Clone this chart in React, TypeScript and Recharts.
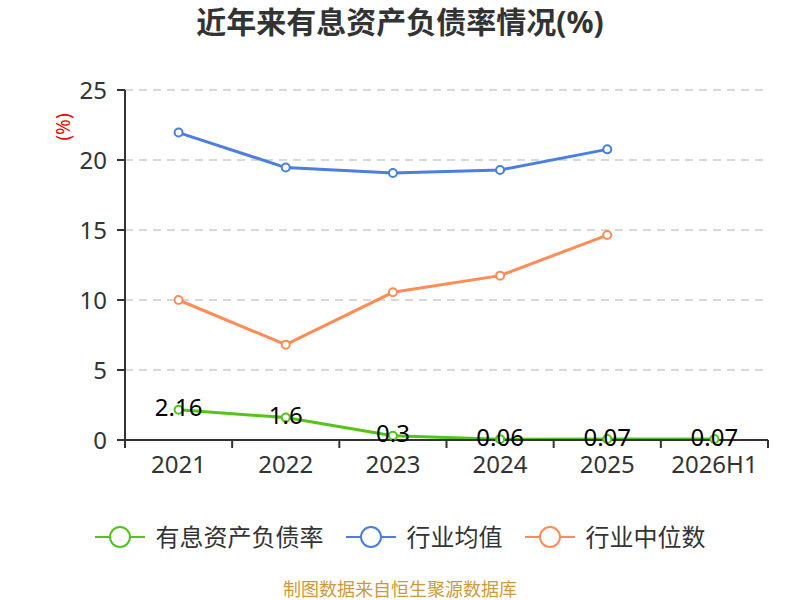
import React from 'react';
import { LineChart, Line, XAxis, YAxis, CartesianGrid, Legend, LabelList } from 'recharts';

const years = ['2021', '2022', '2023', '2024', '2025', '2026H1'];
const debtRatio = [2.16, 1.6, 0.3, 0.06, 0.07, 0.07];
const industryAvg: (number | null)[] = [21.96, 19.46, 19.07, 19.29, 20.76, null];
const industryMedian: (number | null)[] = [10.0, 6.81, 10.55, 11.74, 14.64, null];
const yTicks = [0, 5, 10, 15, 20, 25];

const seriesNames = ['有息资产负债率', '行业均值', '行业中位数'];
const colors = ['#52c41a', '#4a7fe0', '#ff8c55'];

const data = years.map((y, i) => ({
  year: y,
  debt: debtRatio[i],
  avg: industryAvg[i],
  median: industryMedian[i],
}));

const FONT = "'Noto Sans', 'Noto Sans CJK SC', sans-serif";

const XTick = (props: any) => {
  const { x, y, payload, index, visibleTicksCount } = props;
  const half = payload && typeof payload.offset === 'number' ? payload.offset : 0;
  const axisY = y - 16;
  const isLast = index === (visibleTicksCount ?? years.length) - 1;
  return (
    <g>
      <line x1={x - half} x2={x - half} y1={axisY} y2={axisY + 8} stroke="#333" strokeWidth={2} />
      {isLast && (
        <line x1={x + half} x2={x + half} y1={axisY} y2={axisY + 8} stroke="#333" strokeWidth={2} />
      )}
      <text x={x} y={y} dy="0.71em" textAnchor="middle" fill="#333" fontSize={24} fontFamily={FONT}>
        {payload.value}
      </text>
    </g>
  );
};

const YLabel = (props: any) => {
  const vb = props.viewBox || { x: 0, y: 90, width: 125, height: 350 };
  const cx = vb.x + 63;
  const cy = vb.y + 37;
  return (
    <text
      x={cx}
      y={cy}
      transform={`rotate(-90, ${cx}, ${cy})`}
      textAnchor="middle"
      dominantBaseline="central"
      fill="#ff0000"
      fontSize={19}
      fontFamily={FONT}
    >
      (%)
    </text>
  );
};

const renderDataLabel = (props: any) => {
  const { x, y, value } = props;
  return (
    <text
      x={x}
      y={y - 3}
      textAnchor="middle"
      dominantBaseline="central"
      fill="#000"
      fontSize={24}
      fontFamily={FONT}
    >
      {value}
    </text>
  );
};

const renderLegend = (props: any) => {
  const payload = [...(props.payload || [])].sort(
    (a: any, b: any) => seriesNames.indexOf(a.value) - seriesNames.indexOf(b.value)
  );
  return (
    <div
      style={{
        display: 'flex',
        justifyContent: 'center',
        alignItems: 'center',
        height: 30,
        fontFamily: FONT,
      }}
    >
      {payload.map((entry: any, i: number) => (
        <div
          key={i}
          style={{ display: 'flex', alignItems: 'center', marginLeft: i === 0 ? 0 : 22 }}
        >
          <svg width={50} height={26} style={{ display: 'block' }}>
            <line x1={0} x2={15} y1={13} y2={13} stroke={entry.color} strokeWidth={2} />
            <circle cx={25} cy={13} r={10} fill="#fff" stroke={entry.color} strokeWidth={2} />
            <line x1={35} x2={50} y1={13} y2={13} stroke={entry.color} strokeWidth={2} />
          </svg>
          <span style={{ marginLeft: 11, fontSize: 24, color: '#333', lineHeight: '30px' }}>
            {entry.value}
          </span>
        </div>
      ))}
    </div>
  );
};

export default function App() {
  return (
    <div style={{ position: 'absolute', left: 0, top: 0, width: 800, height: 600, background: '#fff' }}>
      <div
        style={{
          position: 'absolute',
          left: 0,
          top: 0,
          width: 800,
          height: 44,
          lineHeight: '44px',
          textAlign: 'center',
          fontSize: 30,
          fontWeight: 'bold',
          color: '#333',
          fontFamily: FONT,
        }}
      >
        近年来有息资产负债率情况(%)
      </div>
      <LineChart width={800} height={600} data={data} margin={{ top: 90, right: 32, bottom: 48, left: 0 }}>
        <CartesianGrid vertical={false} stroke="#ccc" strokeDasharray="8 6" strokeWidth={1.5} />
        <XAxis
          dataKey="year"
          scale="band"
          height={82}
          axisLine={{ stroke: '#333', strokeWidth: 2 }}
          tickLine={false}
          tickSize={8}
          tickMargin={8}
          tick={<XTick />}
          interval={0}
        />
        <YAxis
          width={125}
          domain={[0, 25]}
          ticks={yTicks}
          axisLine={{ stroke: '#333', strokeWidth: 2 }}
          tickLine={{ stroke: '#333', strokeWidth: 2 }}
          tickSize={8}
          tickMargin={10}
          tick={{ fill: '#333', fontSize: 24, fontFamily: FONT }}
          label={<YLabel />}
        />
        <Legend verticalAlign="bottom" content={renderLegend} wrapperStyle={{ left: 0, width: 800 }} />
        <Line
          name={seriesNames[0]}
          dataKey="debt"
          type="linear"
          stroke={colors[0]}
          strokeWidth={3}
          dot={{ r: 4, fill: '#fff', stroke: colors[0], strokeWidth: 2 }}
          activeDot={false}
          isAnimationActive={false}
        >
          <LabelList dataKey="debt" content={renderDataLabel} />
        </Line>
        <Line
          name={seriesNames[1]}
          dataKey="avg"
          type="linear"
          stroke={colors[1]}
          strokeWidth={3}
          dot={{ r: 4, fill: '#fff', stroke: colors[1], strokeWidth: 2 }}
          activeDot={false}
          isAnimationActive={false}
        />
        <Line
          name={seriesNames[2]}
          dataKey="median"
          type="linear"
          stroke={colors[2]}
          strokeWidth={3}
          dot={{ r: 4, fill: '#fff', stroke: colors[2], strokeWidth: 2 }}
          activeDot={false}
          isAnimationActive={false}
        />
      </LineChart>
      <div
        style={{
          position: 'absolute',
          left: 0,
          top: 577,
          width: 800,
          height: 24,
          lineHeight: '24px',
          textAlign: 'center',
          fontSize: 18,
          color: '#cc9a3a',
          fontFamily: FONT,
        }}
      >
        制图数据来自恒生聚源数据库
      </div>
    </div>
  );
}
